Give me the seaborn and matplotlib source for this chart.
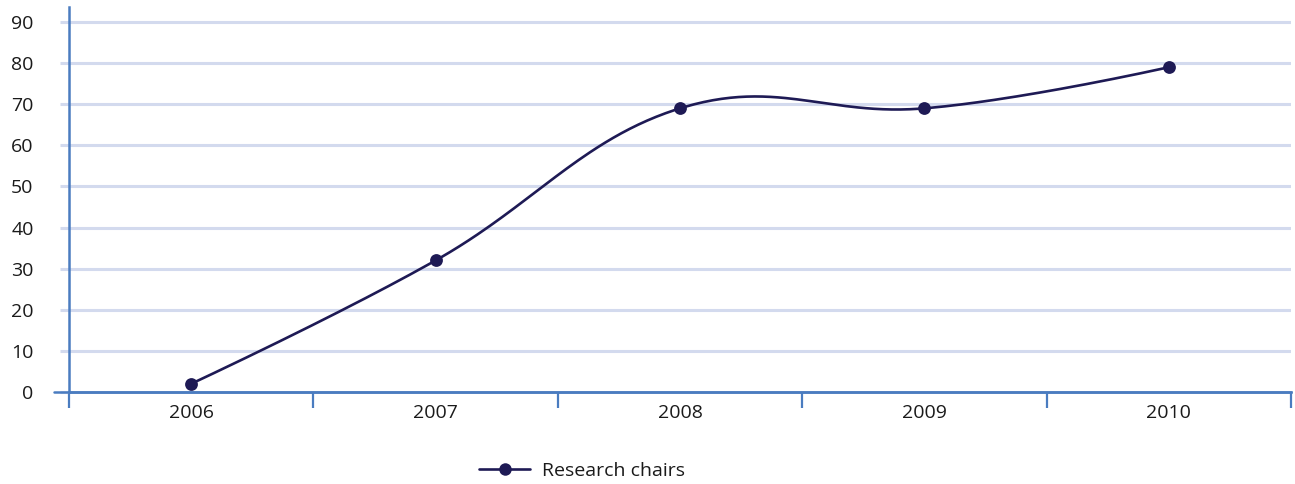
import numpy as np
import pandas as pd
import matplotlib
matplotlib.use("Agg")
import matplotlib.pyplot as plt
from matplotlib.lines import Line2D
import seaborn as sns

# Data
years = ["2006", "2007", "2008", "2009", "2010"]
research_chairs = [2, 32, 69, 69, 79]
y_ticks = [0, 10, 20, 30, 40, 50, 60, 70, 80, 90]
series_name = "Research chairs"

LINE_COLOR = "#1e1a55"
AXIS_COLOR = "#4a7cc0"
GRID_COLOR = "#d3daee"
TEXT_COLOR = "#1a1a1a"


def spline_path(xs, ys, smoothing=1.5, steps=60):
    """Smooth cubic Bezier path through the points (spline-style control points)."""
    n = len(xs)
    denom = smoothing + 1
    left = [(x, y) for x, y in zip(xs, ys)]
    right = [(x, y) for x, y in zip(xs, ys)]
    for i in range(1, n - 1):
        lx = (smoothing * xs[i] + xs[i - 1]) / denom
        ly = (smoothing * ys[i] + ys[i - 1]) / denom
        rx = (smoothing * xs[i] + xs[i + 1]) / denom
        ry = (smoothing * ys[i] + ys[i + 1]) / denom
        corr = (ry - ly) * (rx - xs[i]) / (rx - lx) + ys[i] - ry
        left[i] = (lx, ly + corr)
        right[i] = (rx, ry + corr)
    px, py = [xs[0]], [ys[0]]
    t = np.linspace(0, 1, steps)[1:]
    for i in range(1, n):
        p0 = (xs[i - 1], ys[i - 1])
        p1 = right[i - 1]
        p2 = left[i]
        p3 = (xs[i], ys[i])
        b0, b1, b2, b3 = (1 - t) ** 3, 3 * (1 - t) ** 2 * t, 3 * (1 - t) * t ** 2, t ** 3
        px.extend(b0 * p0[0] + b1 * p1[0] + b2 * p2[0] + b3 * p3[0])
        py.extend(b0 * p0[1] + b1 * p1[1] + b2 * p2[1] + b3 * p3[1])
    return np.array(px), np.array(py)


sns.set_theme(style="white")
plt.rcParams["font.family"] = ["Open Sans", "DejaVu Sans"]

fig = plt.figure(figsize=(12.95, 4.84), dpi=100)
W, H = 1295, 484
ax = fig.add_axes([69 / W, 1 - 392 / H, (1291 - 69) / W, (392 - 7) / H])

pos = np.arange(len(years))
cx, cy = spline_path(pos.astype(float), np.array(research_chairs, dtype=float))
curve = pd.DataFrame({"x": cx, "y": cy})
points = pd.DataFrame({"x": pos, "y": research_chairs})

sns.lineplot(data=curve, x="x", y="y", ax=ax, color=LINE_COLOR, linewidth=1.9,
             sort=False, estimator=None, zorder=3)
sns.scatterplot(data=points, x="x", y="y", ax=ax, color=LINE_COLOR, s=85,
                edgecolor=LINE_COLOR, linewidth=0, zorder=4, clip_on=False)

ax.set_xlim(-0.5, len(years) - 0.5)
ax.set_ylim(0, 93.65)
ax.set_xlabel("")
ax.set_ylabel("")

# Horizontal grid
ax.set_yticks(y_ticks)
ax.set_yticklabels([str(v) for v in y_ticks])
for v in y_ticks[1:]:
    ax.axhline(v, color=GRID_COLOR, linewidth=2.2, zorder=1)
ax.tick_params(axis="y", length=6.5, width=2.2, color=GRID_COLOR, pad=19,
               labelsize=14, labelcolor=TEXT_COLOR, left=True)

# Category axis: labels centred, tick marks between categories
ax.set_xticks(pos)
ax.set_xticklabels(years)
ax.set_xticks(np.arange(-0.5, len(years), 1.0), minor=True)
ax.tick_params(axis="x", which="major", length=0, pad=9, labelsize=14,
               labelcolor=TEXT_COLOR)
ax.tick_params(axis="x", which="minor", length=11.5, width=1.6, color=AXIS_COLOR,
               bottom=True)

for side in ["top", "right"]:
    ax.spines[side].set_visible(False)
ax.spines["left"].set_color(AXIS_COLOR)
ax.spines["left"].set_linewidth(1.8)
ax.spines["bottom"].set_color(AXIS_COLOR)
ax.spines["bottom"].set_linewidth(1.8)
ax.axhline(0, xmin=-0.0123, xmax=1.0, color=AXIS_COLOR, linewidth=1.8,
           clip_on=False, zorder=2)

handle = Line2D([0], [0], color=LINE_COLOR, linewidth=1.9, marker="o",
                markersize=9, markerfacecolor=LINE_COLOR, markeredgewidth=0)
fig.legend([handle], [series_name], loc="center",
           bbox_to_anchor=(582 / W, 1 - 471 / H), frameon=False, fontsize=14,
           handlelength=2.6, handletextpad=0.6, labelcolor=TEXT_COLOR)

fig.savefig("out.png", dpi=100)
